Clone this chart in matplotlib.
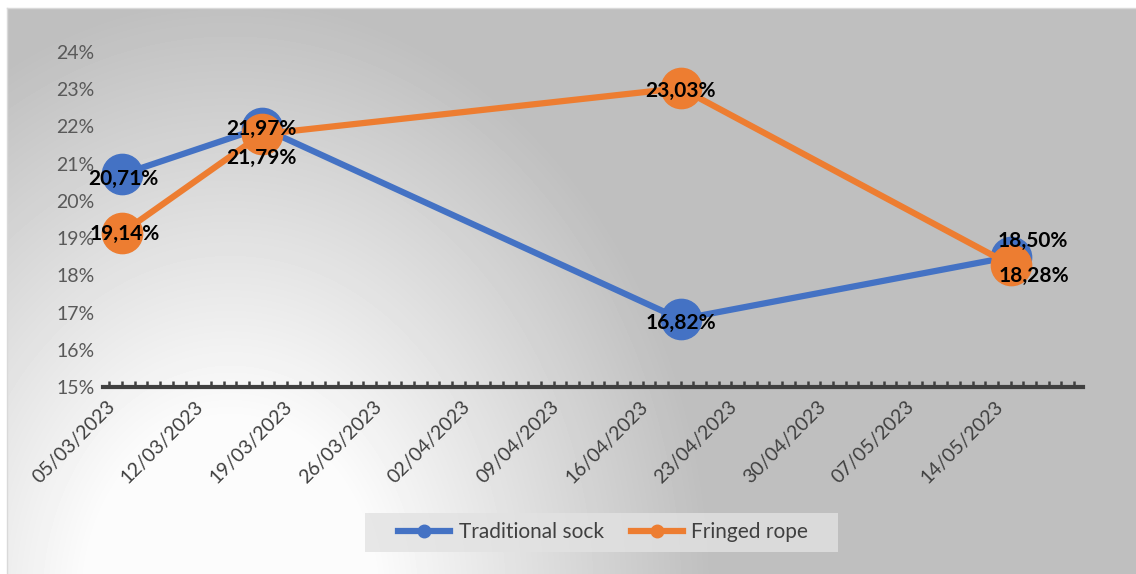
import matplotlib
matplotlib.use("Agg")
import matplotlib.pyplot as plt
import matplotlib.dates as mdates
import matplotlib.transforms as mtransforms
from matplotlib.lines import Line2D
from matplotlib.patches import Rectangle
import numpy as np
import datetime as dt

# chart data
dates = ["05/03/2023", "16/03/2023", "18/04/2023", "14/05/2023"]
sock = [0.2071, 0.2197, 0.1682, 0.1850]
rope = [0.1914, 0.2179, 0.2303, 0.1828]
series_names = ["Traditional sock", "Fringed rope"]

# label offsets (points) per data point
sock_offsets = [(1, -3), (0, -1), (0, -3), (16, 11)]
rope_offsets = [(2, -1), (0, -17), (0, -2), (17, -8)]

BLUE = "#4472C4"
ORANGE = "#ED7D31"

plt.rcParams["font.family"] = ["Lato", "DejaVu Sans"]

W, H = 1136, 574
fig = plt.figure(figsize=(W / 100, H / 100), dpi=100)

# background gradient (white bottom-left to grey top-right)
bg = fig.add_axes([7 / W, 0, 1 - 7 / W, (H - 8) / H])
xs = np.arange(7, W)
ys = np.arange(8, H)
X, Y = np.meshgrid(xs, ys)
d = np.sqrt(((X - 230) / 480.0) ** 2 + ((Y - 600) / 600.0) ** 2)
t = np.clip((d - 0.3) / 0.7, 0, 1)
v = (252 - 61 * t) / 255.0
bg.imshow(v, cmap="gray", vmin=0, vmax=1, aspect="auto", interpolation="bilinear",
          extent=[0, 1, 0, 1])
bg.set_axis_off()
for x0, y0, x1, y1 in [(7, 8, W, 8), (7, 8, 7, H)]:
    fig.add_artist(Line2D([x0 / W, x1 / W], [1 - y0 / H, 1 - y1 / H],
                          color="#D9D9D9", lw=1))

# main axes
left, right, top, bottom = 103, 1083, 52, 387
ax = fig.add_axes([left / W, 1 - bottom / H, (right - left) / W, (bottom - top) / H])
ax.patch.set_alpha(0)

x = [dt.datetime.strptime(s, "%d/%m/%Y") for s in dates]
first, last = x[0], x[-1]

ax.plot(x, sock, color=BLUE, lw=4.5, marker="o", ms=29, zorder=3, clip_on=False)
ax.plot(x, rope, color=ORANGE, lw=4.5, marker="o", ms=29, zorder=4, clip_on=False)

for xi, yi, off in zip(x, sock, sock_offsets):
    ax.annotate(f"{yi * 100:.2f}%".replace(".", ","), (xi, yi), xytext=off,
                textcoords="offset points", ha="center", va="center",
                fontsize=15, fontweight="bold", color="black", zorder=6)
for xi, yi, off in zip(x, rope, rope_offsets):
    ax.annotate(f"{yi * 100:.2f}%".replace(".", ","), (xi, yi), xytext=off,
                textcoords="offset points", ha="center", va="center",
                fontsize=15, fontweight="bold", color="black", zorder=6)

yt = np.arange(0.15, 0.2401, 0.01)
ax.set_ylim(0.15, 0.24)
ax.set_yticks(yt)
ax.set_yticklabels([f"{int(round(v * 100))}%" for v in yt],
                   color="#595959", fontsize=14)
ax.tick_params(axis="y", length=0, pad=6)

ax.set_xlim(mdates.date2num(first) - 1.5, mdates.date2num(last) + 5.7)
weeks = [first + dt.timedelta(days=7 * i) for i in range(11)]
ax.set_xticks(weeks)
ax.set_xticklabels([w.strftime("%d/%m/%Y") for w in weeks], rotation=45,
                   ha="right", va="center", rotation_mode="anchor",
                   color="#404040", fontsize=14)
ax.xaxis.set_minor_locator(mdates.DayLocator())
ax.xaxis.remove_overlapping_locs = False
ax.tick_params(axis="x", which="major", length=0, pad=12)
ax.tick_params(axis="x", which="minor", direction="in", length=4, width=1.8,
               color="#404040")

for s in ["top", "right", "left"]:
    ax.spines[s].set_visible(False)
ax.spines["bottom"].set_color("#404040")
ax.spines["bottom"].set_linewidth(3)

# shift x labels a bit left of their tick
shift = mtransforms.ScaledTranslation(-10 / 100, 0, fig.dpi_scale_trans)
for lbl in ax.get_xticklabels():
    lbl.set_transform(lbl.get_transform() + shift)

# legend background box
fig.add_artist(Rectangle((365 / W, 1 - 552 / H), (838 - 365) / W, 39 / H,
                         transform=fig.transFigure, facecolor="#E2E2E2",
                         alpha=0.8, edgecolor="none", zorder=1))

handles = [Line2D([0], [0], color=BLUE, lw=4.5, marker="o", ms=9),
           Line2D([0], [0], color=ORANGE, lw=4.5, marker="o", ms=9)]
leg = fig.legend(handles, series_names, loc="center", ncol=2,
                 bbox_to_anchor=(603 / W, 1 - 532 / H), frameon=False,
                 fontsize=15, handlelength=2.5, columnspacing=1.3,
                 handletextpad=0.4, borderaxespad=0)
for t in leg.get_texts():
    t.set_color("#404040")

fig.savefig("out.png", dpi=100)
